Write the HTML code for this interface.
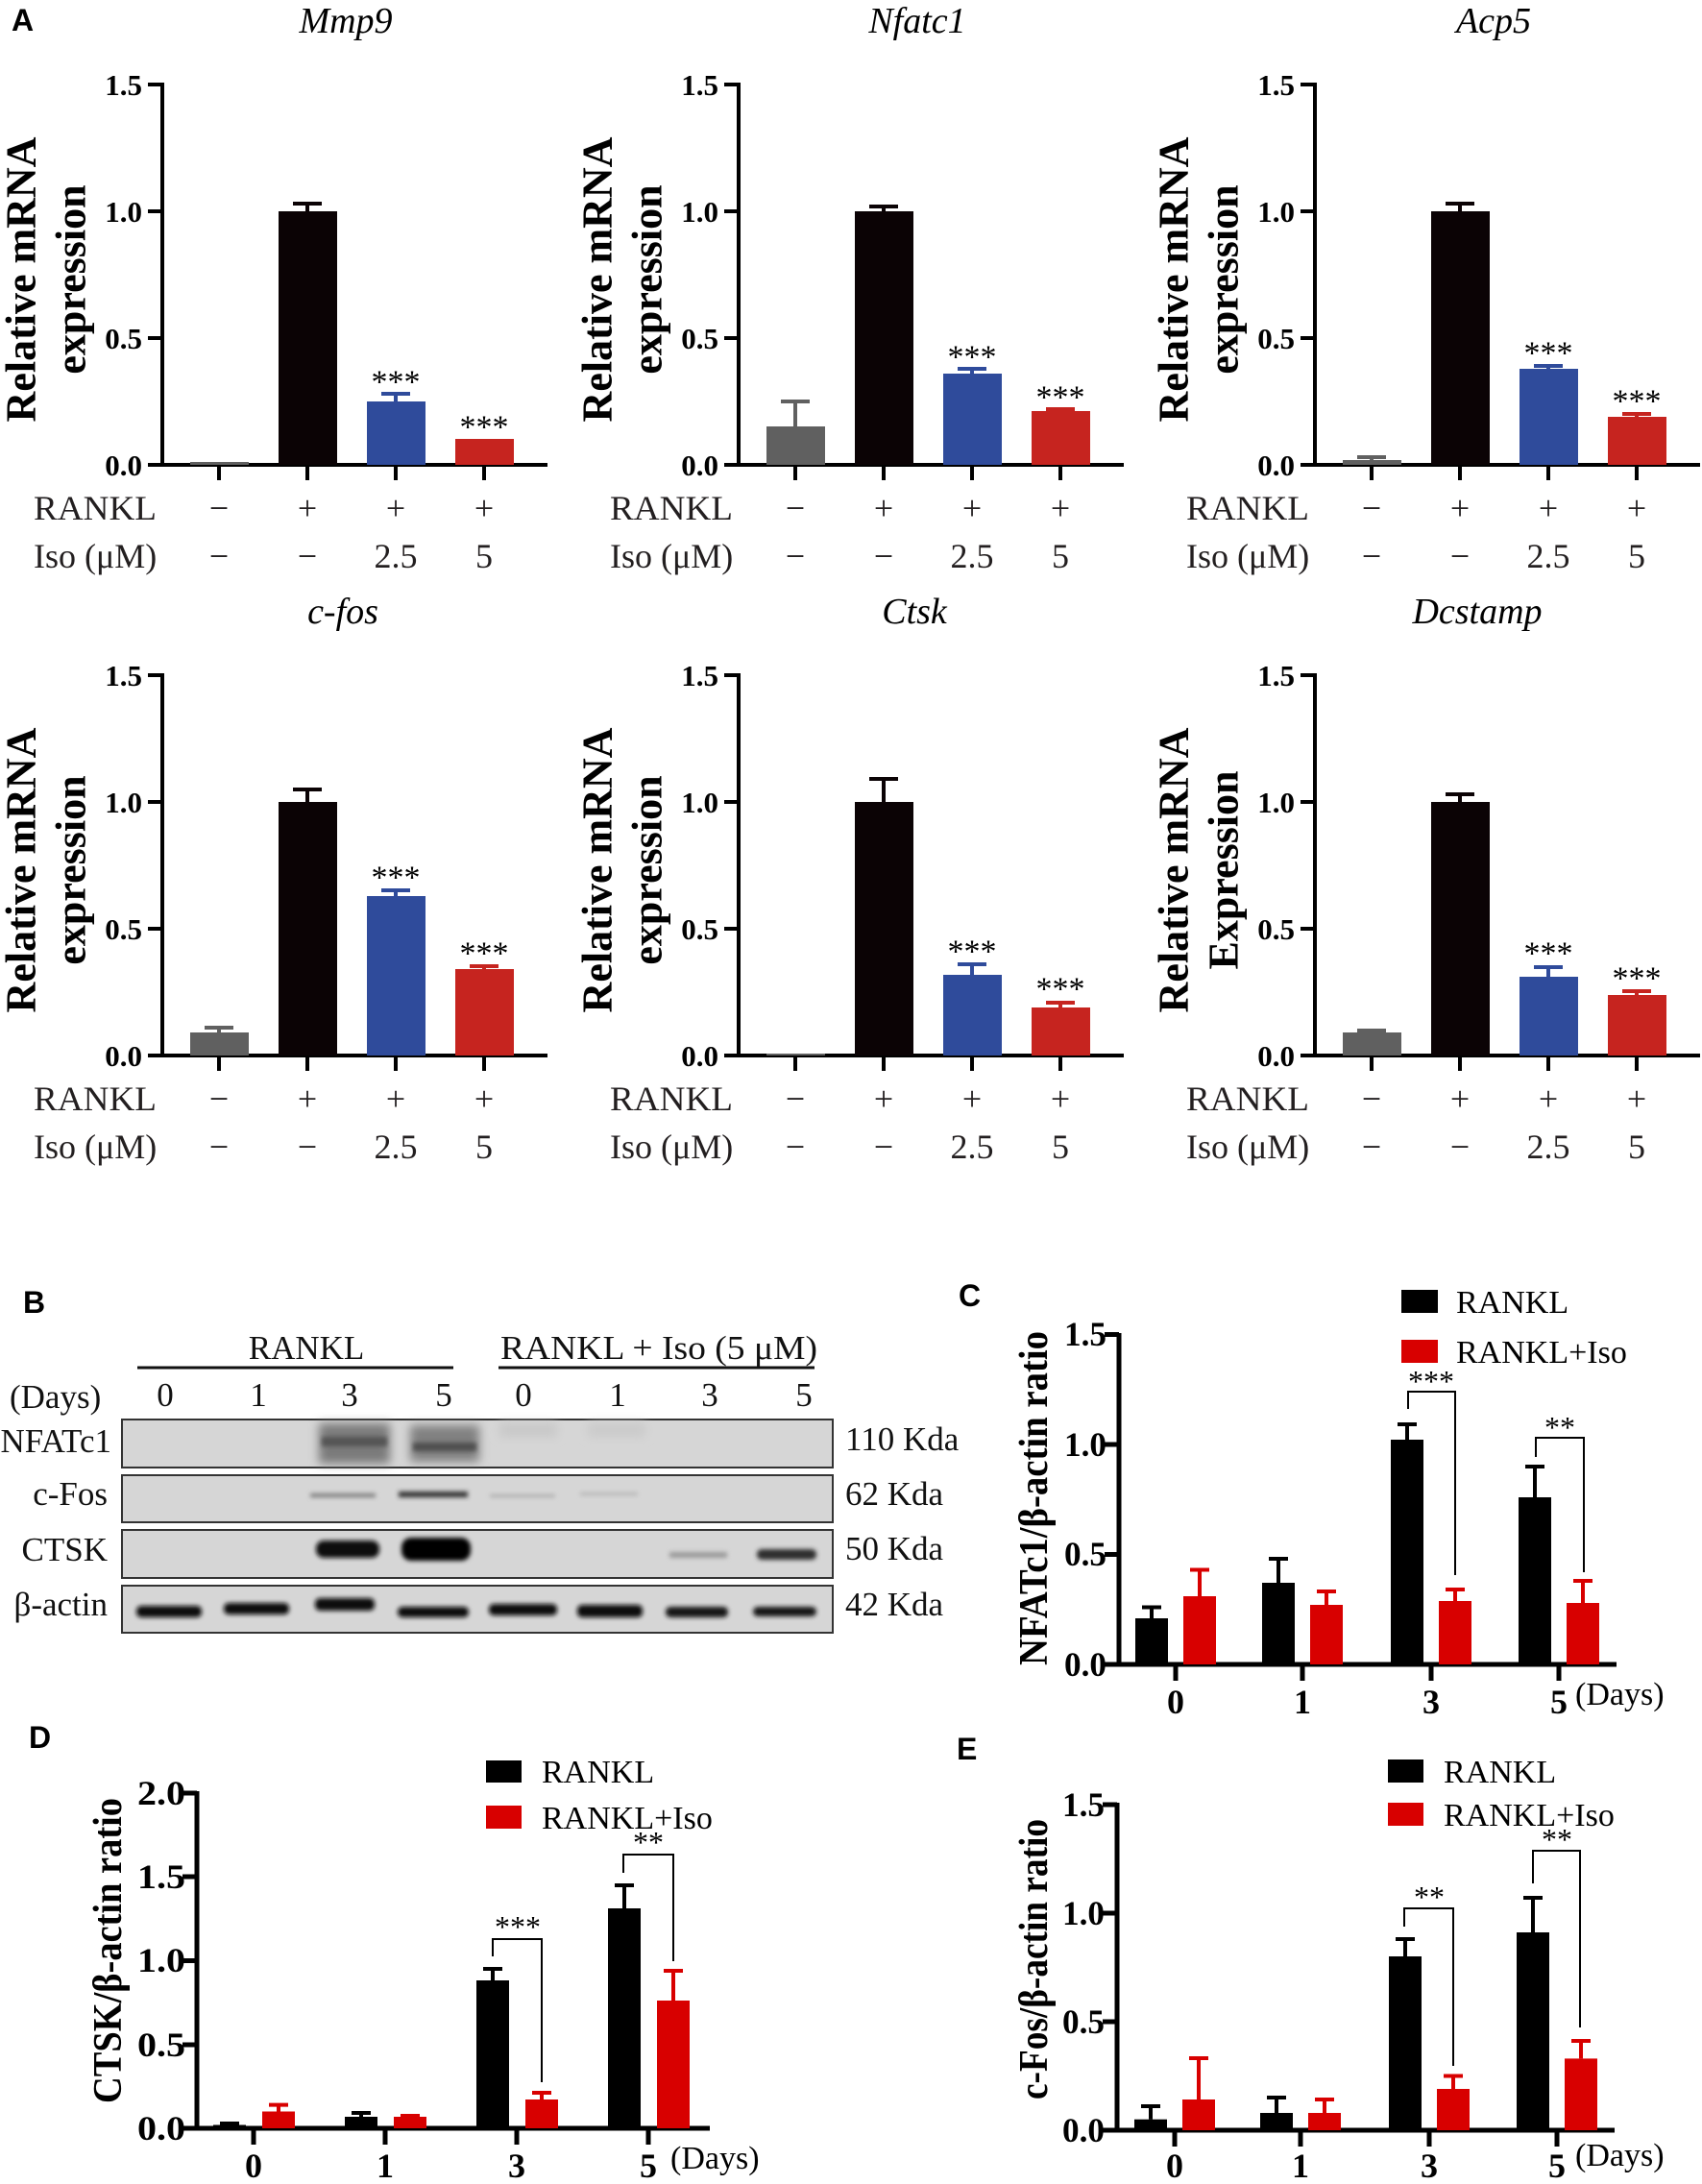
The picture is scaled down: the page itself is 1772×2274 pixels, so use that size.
<!DOCTYPE html>
<html><head><meta charset="utf-8"><style>
html,body{margin:0;padding:0;background:#fff}
svg{display:block}
.s{font-family:"Liberation Serif",serif}
.b{font-family:"Liberation Serif",serif;font-weight:bold}
.L{font-family:"Liberation Sans",sans-serif;font-weight:bold;font-size:32px}
</style></head><body>
<svg width="1772" height="2274" viewBox="0 0 1772 2274" xmlns="http://www.w3.org/2000/svg">
<defs>
<filter id="bl" x="-20%" y="-50%" width="140%" height="200%"><feGaussianBlur stdDeviation="2.5"/></filter>
<filter id="bl2" x="-20%" y="-50%" width="140%" height="200%"><feGaussianBlur stdDeviation="5"/></filter>
<g id="axA">
<line x1="169" y1="86" x2="169" y2="486" stroke="#000" stroke-width="4"/>
<line x1="154" y1="484" x2="570" y2="484" stroke="#000" stroke-width="4"/>
<g stroke="#000" stroke-width="4">
<line x1="154" y1="88" x2="169" y2="88"/><line x1="154" y1="220" x2="169" y2="220"/><line x1="154" y1="352" x2="169" y2="352"/>
<line x1="228" y1="484" x2="228" y2="500"/><line x1="320" y1="484" x2="320" y2="500"/><line x1="412" y1="484" x2="412" y2="500"/><line x1="504" y1="484" x2="504" y2="500"/>
</g>
<g class="b" font-size="31" text-anchor="end">
<text x="148" y="99">1.5</text><text x="148" y="231">1.0</text><text x="148" y="363">0.5</text><text x="148" y="495">0.0</text>
</g>
<g class="s" font-size="36" fill="#231f20">
<text x="35" y="541" textLength="128" lengthAdjust="spacingAndGlyphs">RANKL</text><text x="35" y="591">Iso (μM)</text>
<g text-anchor="middle">
<text x="228" y="541">−</text><text x="320" y="541">+</text><text x="412" y="541">+</text><text x="504" y="541">+</text>
<text x="228" y="591">−</text><text x="320" y="591">−</text><text x="412" y="591">2.5</text><text x="504" y="591">5</text>
</g></g>
</g>
</defs>

<text class="L" x="12" y="32">A</text>

<!-- Mmp9 -->
<g>
<use href="#axA"/>
<text class="s" font-size="38" font-style="italic" x="360" y="34" text-anchor="middle">Mmp9</text>
<text class="b" font-size="44" text-anchor="middle" dominant-baseline="central" transform="translate(22,291) rotate(-90)">Relative mRNA</text>
<text class="b" font-size="44" text-anchor="middle" dominant-baseline="central" transform="translate(74,291) rotate(-90)">expression</text>
<rect x="198" y="481" width="61" height="3" fill="#606060"/>
<rect x="290" y="220" width="61" height="264" fill="#0b0305"/>
<path d="M320 220V212M305 212H335" stroke="#0b0305" stroke-width="4"/>
<rect x="382" y="418" width="61" height="66" fill="#2f4b9b"/>
<path d="M412 418V410M397 410H427" stroke="#2f4b9b" stroke-width="4"/>
<rect x="474" y="457" width="61" height="27" fill="#c6241f"/>
<g class="s" font-size="34" text-anchor="middle" dominant-baseline="central"><text x="412" y="398">***</text><text x="504" y="445">***</text></g>
</g>

<!-- Nfatc1 -->
<g transform="translate(600,0)">
<use href="#axA"/>
<text class="s" font-size="38" font-style="italic" x="355" y="34" text-anchor="middle">Nfatc1</text>
<text class="b" font-size="44" text-anchor="middle" dominant-baseline="central" transform="translate(22,291) rotate(-90)">Relative mRNA</text>
<text class="b" font-size="44" text-anchor="middle" dominant-baseline="central" transform="translate(74,291) rotate(-90)">expression</text>
<rect x="198" y="444" width="61" height="40" fill="#606060"/>
<path d="M228 444V418M213 418H243" stroke="#606060" stroke-width="4"/>
<rect x="290" y="220" width="61" height="264" fill="#0b0305"/>
<path d="M320 220V215M305 215H335" stroke="#0b0305" stroke-width="4"/>
<rect x="382" y="389" width="61" height="95" fill="#2f4b9b"/>
<path d="M412 389V384M397 384H427" stroke="#2f4b9b" stroke-width="4"/>
<rect x="474" y="428" width="61" height="56" fill="#c6241f"/>
<path d="M504 428V426M489 426H519" stroke="#c6241f" stroke-width="4"/>
<g class="s" font-size="34" text-anchor="middle" dominant-baseline="central"><text x="412" y="372">***</text><text x="504" y="414">***</text></g>
</g>

<!-- Acp5 -->
<g transform="translate(1200,0)">
<use href="#axA"/>
<text class="s" font-size="38" font-style="italic" x="355" y="34" text-anchor="middle">Acp5</text>
<text class="b" font-size="44" text-anchor="middle" dominant-baseline="central" transform="translate(22,291) rotate(-90)">Relative mRNA</text>
<text class="b" font-size="44" text-anchor="middle" dominant-baseline="central" transform="translate(74,291) rotate(-90)">expression</text>
<rect x="198" y="479" width="61" height="5" fill="#606060"/>
<path d="M228 479V476M213 476H243" stroke="#606060" stroke-width="4"/>
<rect x="290" y="220" width="61" height="264" fill="#0b0305"/>
<path d="M320 220V212M305 212H335" stroke="#0b0305" stroke-width="4"/>
<rect x="382" y="384" width="61" height="100" fill="#2f4b9b"/>
<path d="M412 384V381M397 381H427" stroke="#2f4b9b" stroke-width="4"/>
<rect x="474" y="434" width="61" height="50" fill="#c6241f"/>
<path d="M504 434V431M489 431H519" stroke="#c6241f" stroke-width="4"/>
<g class="s" font-size="34" text-anchor="middle" dominant-baseline="central"><text x="412" y="368">***</text><text x="504" y="418">***</text></g>
</g>

<!-- c-fos -->
<g transform="translate(0,615)">
<use href="#axA"/>
<text class="s" font-size="38" font-style="italic" x="357" y="34" text-anchor="middle">c-fos</text>
<text class="b" font-size="44" text-anchor="middle" dominant-baseline="central" transform="translate(22,291) rotate(-90)">Relative mRNA</text>
<text class="b" font-size="44" text-anchor="middle" dominant-baseline="central" transform="translate(74,291) rotate(-90)">expression</text>
<rect x="198" y="460" width="61" height="24" fill="#606060"/>
<path d="M228 460V455M213 455H243" stroke="#606060" stroke-width="4"/>
<rect x="290" y="220" width="61" height="264" fill="#0b0305"/>
<path d="M320 220V207M305 207H335" stroke="#0b0305" stroke-width="4"/>
<rect x="382" y="318" width="61" height="166" fill="#2f4b9b"/>
<path d="M412 318V312M397 312H427" stroke="#2f4b9b" stroke-width="4"/>
<rect x="474" y="394" width="61" height="90" fill="#c6241f"/>
<path d="M504 394V391M489 391H519" stroke="#c6241f" stroke-width="4"/>
<g class="s" font-size="34" text-anchor="middle" dominant-baseline="central"><text x="412" y="299">***</text><text x="504" y="378">***</text></g>
</g>

<!-- Ctsk -->
<g transform="translate(600,615)">
<use href="#axA"/>
<text class="s" font-size="38" font-style="italic" x="352" y="34" text-anchor="middle">Ctsk</text>
<text class="b" font-size="44" text-anchor="middle" dominant-baseline="central" transform="translate(22,291) rotate(-90)">Relative mRNA</text>
<text class="b" font-size="44" text-anchor="middle" dominant-baseline="central" transform="translate(74,291) rotate(-90)">expression</text>
<rect x="198" y="482" width="61" height="2" fill="#606060"/>
<rect x="290" y="220" width="61" height="264" fill="#0b0305"/>
<path d="M320 220V196M305 196H335" stroke="#0b0305" stroke-width="4"/>
<rect x="382" y="400" width="61" height="84" fill="#2f4b9b"/>
<path d="M412 400V389M397 389H427" stroke="#2f4b9b" stroke-width="4"/>
<rect x="474" y="434" width="61" height="50" fill="#c6241f"/>
<path d="M504 434V429M489 429H519" stroke="#c6241f" stroke-width="4"/>
<g class="s" font-size="34" text-anchor="middle" dominant-baseline="central"><text x="412" y="376">***</text><text x="504" y="415">***</text></g>
</g>

<!-- Dcstamp -->
<g transform="translate(1200,615)">
<use href="#axA"/>
<text class="s" font-size="38" font-style="italic" x="338" y="34" text-anchor="middle">Dcstamp</text>
<text class="b" font-size="44" text-anchor="middle" dominant-baseline="central" transform="translate(22,291) rotate(-90)">Relative mRNA</text>
<text class="b" font-size="44" text-anchor="middle" dominant-baseline="central" transform="translate(74,291) rotate(-90)">Expression</text>
<rect x="198" y="460" width="61" height="24" fill="#606060"/>
<path d="M228 460V458M213 458H243" stroke="#606060" stroke-width="4"/>
<rect x="290" y="220" width="61" height="264" fill="#0b0305"/>
<path d="M320 220V212M305 212H335" stroke="#0b0305" stroke-width="4"/>
<rect x="382" y="402" width="61" height="82" fill="#2f4b9b"/>
<path d="M412 402V392M397 392H427" stroke="#2f4b9b" stroke-width="4"/>
<rect x="474" y="421" width="61" height="63" fill="#c6241f"/>
<path d="M504 421V417M489 417H519" stroke="#c6241f" stroke-width="4"/>
<g class="s" font-size="34" text-anchor="middle" dominant-baseline="central"><text x="412" y="378">***</text><text x="504" y="404">***</text></g>
</g>

<!-- Panel B -->
<text class="L" x="24" y="1367">B</text>
<g class="s" font-size="35" fill="#111">
<text x="319" y="1415" text-anchor="middle">RANKL</text>
<text x="686" y="1415" text-anchor="middle" textLength="330" lengthAdjust="spacingAndGlyphs">RANKL + Iso (5 μM)</text>
<text x="10" y="1466">(Days)</text>
<g text-anchor="middle">
<text x="172" y="1464">0</text><text x="269" y="1464">1</text><text x="364" y="1464">3</text><text x="462" y="1464">5</text>
<text x="545" y="1464">0</text><text x="643" y="1464">1</text><text x="739" y="1464">3</text><text x="837" y="1464">5</text>
</g>
<g text-anchor="end">
<text x="116" y="1512">NFATc1</text><text x="112" y="1567">c-Fos</text><text x="112" y="1625">CTSK</text><text x="112" y="1682">β-actin</text>
</g>
<text x="880" y="1510">110 Kda</text><text x="880" y="1567">62 Kda</text><text x="880" y="1624">50 Kda</text><text x="880" y="1682">42 Kda</text>
</g>
<line x1="143" y1="1424" x2="472" y2="1424" stroke="#111" stroke-width="3"/>
<line x1="519" y1="1424" x2="848" y2="1424" stroke="#111" stroke-width="3"/>
<g fill="#d6d6d6" stroke="#333" stroke-width="2">
<rect x="127" y="1478" width="740" height="50"/>
<rect x="127" y="1536" width="740" height="49"/>
<rect x="127" y="1593" width="740" height="50"/>
<rect x="127" y="1651" width="740" height="49"/>
</g>
<g filter="url(#bl2)">
<rect x="332" y="1482" width="74" height="42" fill="#7a7a7a"/>
<rect x="427" y="1484" width="72" height="38" fill="#808080"/>
<rect x="520" y="1482" width="60" height="14" fill="#c8c8c8"/>
<rect x="612" y="1482" width="60" height="14" fill="#cacaca"/>
</g>
<g filter="url(#bl)">
<rect x="335" y="1496" width="68" height="10" fill="#555"/>
<rect x="430" y="1502" width="66" height="9" fill="#505050"/>
<rect x="323" y="1555" width="68" height="4" fill="#7a7a7a"/>
<rect x="415" y="1553" width="72" height="6" fill="#333"/>
<rect x="510" y="1556" width="68" height="3" fill="#aaa"/>
<rect x="604" y="1554" width="60" height="3" fill="#b4b4b4"/>
<rect x="329" y="1604" width="66" height="18" rx="8" fill="#0a0a0a"/>
<rect x="418" y="1601" width="72" height="24" rx="10" fill="#050505"/>
<rect x="697" y="1616" width="60" height="6" fill="#9a9a9a"/>
<rect x="788" y="1613" width="62" height="11" rx="5" fill="#2e2e2e"/>
<rect x="142" y="1672" width="68" height="12" rx="5" fill="#111"/>
<rect x="233" y="1669" width="68" height="12" rx="5" fill="#111"/>
<rect x="328" y="1664" width="62" height="13" rx="5" fill="#111"/>
<rect x="414" y="1673" width="74" height="11" rx="5" fill="#111"/>
<rect x="509" y="1670" width="71" height="12" rx="5" fill="#111"/>
<rect x="601" y="1671" width="68" height="13" rx="5" fill="#0a0a0a"/>
<rect x="693" y="1673" width="65" height="11" rx="5" fill="#141414"/>
<rect x="784" y="1673" width="66" height="10" rx="5" fill="#161616"/>
</g>

<!-- Panel C -->
<text class="L" x="998" y="1360">C</text>
<text class="b" font-size="42" text-anchor="middle" dominant-baseline="central" textLength="348" lengthAdjust="spacingAndGlyphs" transform="translate(1077,1560) rotate(-90)">NFATc1/β-actin ratio</text>
<g stroke="#000" stroke-width="5">
<line x1="1165" y1="1388" x2="1165" y2="1735"/><line x1="1150" y1="1733" x2="1683" y2="1733"/>
<line x1="1150" y1="1389.5" x2="1165" y2="1389.5"/><line x1="1150" y1="1504" x2="1165" y2="1504"/><line x1="1150" y1="1618.5" x2="1165" y2="1618.5"/>
<line x1="1224" y1="1733" x2="1224" y2="1750"/><line x1="1356" y1="1733" x2="1356" y2="1750"/><line x1="1490" y1="1733" x2="1490" y2="1750"/><line x1="1623" y1="1733" x2="1623" y2="1750"/>
</g>
<g class="b" font-size="36" text-anchor="end">
<text x="1152" y="1401" textLength="44" lengthAdjust="spacingAndGlyphs">1.5</text><text x="1152" y="1516" textLength="44" lengthAdjust="spacingAndGlyphs">1.0</text><text x="1152" y="1630" textLength="44" lengthAdjust="spacingAndGlyphs">0.5</text><text x="1152" y="1745" textLength="44" lengthAdjust="spacingAndGlyphs">0.0</text>
</g>
<g class="b" font-size="36" text-anchor="middle">
<text x="1224" y="1784">0</text><text x="1356" y="1784">1</text><text x="1490" y="1784">3</text><text x="1623" y="1784">5</text>
</g>
<text class="s" font-size="34" x="1640" y="1775">(Days)</text>
<g fill="#000">
<rect x="1182" y="1685" width="34" height="48"/><rect x="1314" y="1648" width="34" height="85"/>
<rect x="1448" y="1499" width="34" height="234"/><rect x="1581" y="1559" width="34" height="174"/>
</g>
<path d="M1199 1685V1673.5M1189 1673.5H1209M1331 1648V1623M1321 1623H1341M1465 1499V1483M1455 1483H1475M1598 1559V1527M1588 1527H1608" stroke="#000" stroke-width="4"/>
<g fill="#d80000">
<rect x="1232" y="1662" width="34" height="71"/><rect x="1364" y="1671" width="34" height="62"/>
<rect x="1498" y="1667" width="34" height="66"/><rect x="1631" y="1669" width="34" height="64"/>
</g>
<path d="M1249 1662V1634.5M1239 1634.5H1259M1381 1671V1657M1371 1657H1391M1515 1667V1655M1505 1655H1525M1648 1669V1646M1638 1646H1658" stroke="#d80000" stroke-width="4"/>
<path d="M1466 1467V1449H1515V1640M1599 1517V1497H1649V1637" fill="none" stroke="#000" stroke-width="2"/>
<g class="s" font-size="32" text-anchor="middle" dominant-baseline="central"><text x="1490" y="1438">***</text><text x="1624" y="1486">**</text></g>
<rect x="1459" y="1343" width="38" height="24" fill="#000"/><rect x="1459" y="1395" width="38" height="24" fill="#d80000"/>
<g class="s" font-size="34"><text x="1516" y="1367">RANKL</text><text x="1516" y="1419">RANKL+Iso</text></g>

<!-- Panel D -->
<text class="L" x="30" y="1820">D</text>
<text class="b" font-size="42" text-anchor="middle" dominant-baseline="central" textLength="318" lengthAdjust="spacingAndGlyphs" transform="translate(113,2031) rotate(-90)">CTSK/β-actin ratio</text>
<g stroke="#000" stroke-width="5">
<line x1="205" y1="1865" x2="205" y2="2218"/><line x1="190" y1="2216" x2="739" y2="2216"/>
<line x1="190" y1="1867" x2="205" y2="1867"/><line x1="190" y1="1954" x2="205" y2="1954"/><line x1="190" y1="2041.5" x2="205" y2="2041.5"/><line x1="190" y1="2129" x2="205" y2="2129"/>
<line x1="264" y1="2216" x2="264" y2="2233"/><line x1="401" y1="2216" x2="401" y2="2233"/><line x1="538" y1="2216" x2="538" y2="2233"/><line x1="675" y1="2216" x2="675" y2="2233"/>
</g>
<g class="b" font-size="36" text-anchor="end">
<text x="193" y="1879" textLength="50" lengthAdjust="spacingAndGlyphs">2.0</text><text x="193" y="1966" textLength="50" lengthAdjust="spacingAndGlyphs">1.5</text><text x="193" y="2053" textLength="50" lengthAdjust="spacingAndGlyphs">1.0</text><text x="193" y="2141" textLength="50" lengthAdjust="spacingAndGlyphs">0.5</text><text x="193" y="2228" textLength="50" lengthAdjust="spacingAndGlyphs">0.0</text>
</g>
<g class="b" font-size="36" text-anchor="middle">
<text x="264" y="2267">0</text><text x="401" y="2267">1</text><text x="538" y="2267">3</text><text x="675" y="2267">5</text>
</g>
<text class="s" font-size="34" x="698" y="2258">(Days)</text>
<g fill="#000">
<rect x="222" y="2212.5" width="34" height="3.5"/><rect x="359" y="2204" width="34" height="12"/>
<rect x="496" y="2062" width="34" height="154"/><rect x="633" y="1987" width="34" height="229"/>
</g>
<path d="M239 2212.5V2211M229 2211H249M376 2204V2200M366 2200H386M513 2062V2050M503 2050H523M650 1987V1963M640 1963H660" stroke="#000" stroke-width="4"/>
<g fill="#d80000">
<rect x="273" y="2198.5" width="34" height="17.5"/><rect x="410" y="2204" width="34" height="12"/>
<rect x="547" y="2186" width="34" height="30"/><rect x="684" y="2083" width="34" height="133"/>
</g>
<path d="M290 2198.5V2191.6M280 2191.6H300M427 2204V2203M417 2203H437M564 2186V2179M554 2179H574M701 2083V2052M691 2052H711" stroke="#d80000" stroke-width="4"/>
<path d="M513 2037V2019H564V2168M649 1950V1931H701V2042" fill="none" stroke="#000" stroke-width="2"/>
<g class="s" font-size="32" text-anchor="middle" dominant-baseline="central"><text x="539" y="2006">***</text><text x="675" y="1918">**</text></g>
<rect x="506" y="1833" width="37" height="23" fill="#000"/><rect x="506" y="1880" width="37" height="24" fill="#d80000"/>
<g class="s" font-size="34"><text x="564" y="1856">RANKL</text><text x="564" y="1904">RANKL+Iso</text></g>

<!-- Panel E -->
<text class="L" x="996" y="1832">E</text>
<text class="b" font-size="42" text-anchor="middle" dominant-baseline="central" textLength="292" lengthAdjust="spacingAndGlyphs" transform="translate(1077,2040) rotate(-90)">c-Fos/β-actin ratio</text>
<g stroke="#000" stroke-width="5">
<line x1="1163" y1="1877" x2="1163" y2="2220"/><line x1="1148" y1="2218" x2="1681" y2="2218"/>
<line x1="1148" y1="1879" x2="1163" y2="1879"/><line x1="1148" y1="1992" x2="1163" y2="1992"/><line x1="1148" y1="2105" x2="1163" y2="2105"/>
<line x1="1223" y1="2218" x2="1223" y2="2235"/><line x1="1354" y1="2218" x2="1354" y2="2235"/><line x1="1488" y1="2218" x2="1488" y2="2235"/><line x1="1621" y1="2218" x2="1621" y2="2235"/>
</g>
<g class="b" font-size="36" text-anchor="end">
<text x="1150" y="1891" textLength="44" lengthAdjust="spacingAndGlyphs">1.5</text><text x="1150" y="2004" textLength="44" lengthAdjust="spacingAndGlyphs">1.0</text><text x="1150" y="2117" textLength="44" lengthAdjust="spacingAndGlyphs">0.5</text><text x="1150" y="2230" textLength="44" lengthAdjust="spacingAndGlyphs">0.0</text>
</g>
<g class="b" font-size="36" text-anchor="middle">
<text x="1223" y="2267">0</text><text x="1354" y="2267">1</text><text x="1488" y="2267">3</text><text x="1621" y="2267">5</text>
</g>
<text class="s" font-size="34" x="1640" y="2255">(Days)</text>
<g fill="#000">
<rect x="1181" y="2206.7" width="34" height="11.3"/><rect x="1312" y="2200" width="34" height="18"/>
<rect x="1446" y="2037" width="34" height="181"/><rect x="1579" y="2012" width="34" height="206"/>
</g>
<path d="M1198 2206.7V2193M1188 2193H1208M1329 2200V2184M1319 2184H1339M1463 2037V2019M1453 2019H1473M1596 2012V1976M1586 1976H1606" stroke="#000" stroke-width="4"/>
<g fill="#d80000">
<rect x="1231" y="2186" width="34" height="32"/><rect x="1362" y="2200" width="34" height="18"/>
<rect x="1496" y="2175" width="34" height="43"/><rect x="1629" y="2143.4" width="34" height="74.6"/>
</g>
<path d="M1248 2186V2143M1238 2143H1258M1379 2200V2186M1369 2186H1389M1513 2175V2161.5M1503 2161.5H1523M1646 2143.4V2125M1636 2125H1656" stroke="#d80000" stroke-width="4"/>
<path d="M1462 2006V1987H1513V2151M1596 1961V1927H1645V2111" fill="none" stroke="#000" stroke-width="2"/>
<g class="s" font-size="32" text-anchor="middle" dominant-baseline="central"><text x="1488" y="1975">**</text><text x="1621" y="1915">**</text></g>
<rect x="1445" y="1832" width="37" height="24" fill="#000"/><rect x="1445" y="1877" width="37" height="24" fill="#d80000"/>
<g class="s" font-size="34"><text x="1503" y="1856">RANKL</text><text x="1503" y="1901">RANKL+Iso</text></g>
</svg>
</body></html>
